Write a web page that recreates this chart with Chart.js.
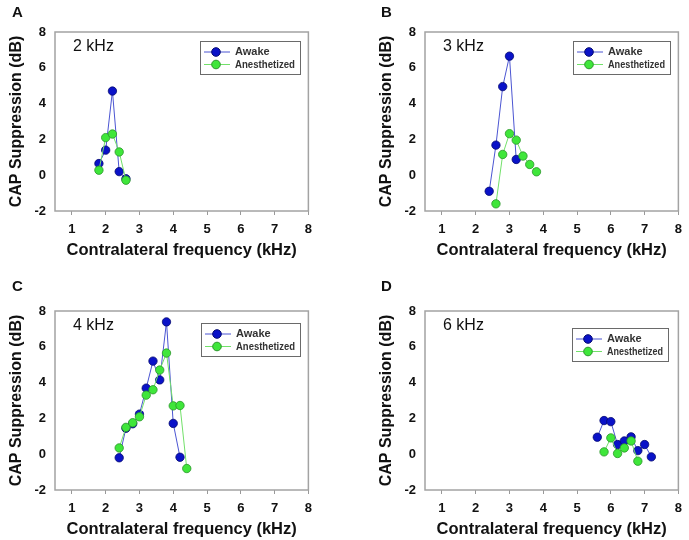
<!DOCTYPE html>
<html>
<head>
<meta charset="utf-8">
<script src="https://cdn.jsdelivr.net/npm/chart.js@4.4.1/dist/chart.umd.min.js"></script>
<style>
html, body { margin: 0; padding: 0; background: #fff; overflow: hidden; width: 689px; height: 540px; }
.panel { position: absolute; }
.letter { position: absolute; font: bold 15px "Liberation Sans", Arial, sans-serif; color: #111; line-height: 15px; }
</style>
</head>
<body>
<canvas id="cA" class="panel" width="319" height="270" style="left:0;top:0"></canvas>
<canvas id="cB" class="panel" width="319" height="270" style="left:370px;top:0"></canvas>
<canvas id="cC" class="panel" width="319" height="270" style="left:0;top:279px"></canvas>
<canvas id="cD" class="panel" width="319" height="270" style="left:370px;top:279px"></canvas>
<div class="letter" style="left:12px;top:4px">A</div>
<div class="letter" style="left:381px;top:4px">B</div>
<div class="letter" style="left:12px;top:278px">C</div>
<div class="letter" style="left:381px;top:278px">D</div>
<script>
// axis ticks
const xTicks = [1, 2, 3, 4, 5, 6, 7, 8];
const yTicks = [-2, 0, 2, 4, 6, 8];
const seriesNames = ['Awake', 'Anesthetized'];

// A: 2 kHz probe
const freqA = [1.8, 2.0, 2.2, 2.4, 2.6];
const awakeA = [0.65, 1.4, 4.7, 0.2, -0.2];
const anesA = [0.28, 2.1, 2.3, 1.3, -0.28];

// B: 3 kHz probe
const freqAwakeB = [2.4, 2.6, 2.8, 3.0, 3.2];
const awakeB = [-0.9, 1.68, 4.95, 6.65, 0.88];
const freqAnesB = [2.6, 2.8, 3.0, 3.2, 3.4, 3.6, 3.8];
const anesB = [-1.6, 1.16, 2.32, 1.96, 1.07, 0.6, 0.19];

// C: 4 kHz probe
const freqAwakeC = [2.4, 2.6, 2.8, 3.0, 3.2, 3.4, 3.6, 3.8, 4.0, 4.2];
const awakeC = [-0.2, 1.45, 1.7, 2.24, 3.69, 5.2, 4.15, 7.39, 1.72, -0.17];
const freqAnesC = [2.4, 2.6, 2.8, 3.0, 3.2, 3.4, 3.6, 3.8, 4.0, 4.2, 4.4];
const anesC = [0.35, 1.5, 1.76, 2.09, 3.3, 3.6, 4.7, 5.65, 2.7, 2.72, -0.8];

// D: 6 kHz probe
const freqAwakeD = [5.6, 5.8, 6.0, 6.2, 6.4, 6.6, 6.8, 7.0, 7.2];
const awakeD = [0.95, 1.88, 1.82, 0.54, 0.74, 0.97, 0.2, 0.54, -0.15];
const freqAnesD = [5.8, 6.0, 6.2, 6.4, 6.6, 6.8];
const anesD = [0.13, 0.91, 0.04, 0.35, 0.74, -0.39];

const blue = { line: '#4b55d2', fill: '#0a12c8', edge: '#050a70' };
const green = { line: '#72e06a', fill: '#3fe63a', edge: '#2a962a' };

function pts(xs, ys) {
    return xs.map(function (x, i) { return { x: x, y: ys[i] }; });
}

const panelDecor = {
    id: 'panelDecor',
    beforeDatasetsDraw(chart, args, opts) {
        const ctx = chart.ctx, a = chart.chartArea;
        ctx.save();
        ctx.strokeStyle = '#a3a3a3';
        ctx.lineWidth = 1.5;
        ctx.strokeRect(a.left, a.top, a.right - a.left, a.bottom - a.top);
        ctx.fillStyle = '#111';
        ctx.font = '16px "Liberation Sans", Arial, sans-serif';
        ctx.textAlign = 'left';
        ctx.textBaseline = 'middle';
        ctx.fillText(opts.label, a.left + 18, a.top + 15);
        ctx.restore();
    },
    afterDatasetsDraw(chart, args, opts) {
        const ctx = chart.ctx, a = chart.chartArea;
        const x0 = a.left + opts.legendX, y0 = a.top + opts.legendY;
        ctx.save();
        ctx.fillStyle = '#fff';
        ctx.fillRect(x0, y0, opts.legendW, 33);
        ctx.strokeStyle = '#6a6a6a';
        ctx.lineWidth = 1;
        ctx.strokeRect(x0 + 0.5, y0 + 0.5, opts.legendW, 33);
        chart.data.datasets.slice().sort(function (p, q) { return p.legendIndex - q.legendIndex; }).forEach(function (ds, i) {
            const y = y0 + 11 + i * 12.5;
            ctx.strokeStyle = ds.borderColor;
            ctx.lineWidth = 1;
            ctx.beginPath();
            ctx.moveTo(x0 + 4, y);
            ctx.lineTo(x0 + 30, y);
            ctx.stroke();
            ctx.beginPath();
            ctx.arc(x0 + 16, y, 4.3, 0, Math.PI * 2);
            ctx.fillStyle = ds.pointBackgroundColor;
            ctx.fill();
            ctx.strokeStyle = ds.pointBorderColor;
            ctx.stroke();
            ctx.fillStyle = '#333';
            ctx.font = 'bold 11px "Liberation Sans", Arial, sans-serif';
            ctx.textAlign = 'left';
            ctx.textBaseline = 'middle';
            // squeeze to the narrow legend face of the original
            ctx.fillText(ds.label, x0 + 35, y, ds.label.length > 6 ? opts.legendW - 40 : 40);
        });
        ctx.restore();
    }
};

function makePanel(id, label, awake, anes, legendX, legendY, legendW) {
    const tickFont = { family: '"Liberation Sans", Arial, sans-serif', size: 13, weight: 'bold' };
    new Chart(document.getElementById(id), {
        type: 'scatter',
        data: {
            datasets: [
                {
                    label: seriesNames[0], data: awake, showLine: true, order: 1, legendIndex: 0,
                    borderColor: blue.line, borderWidth: 1,
                    pointBackgroundColor: blue.fill, pointBorderColor: blue.edge,
                    pointRadius: 4.2, pointBorderWidth: 0.8
                },
                {
                    label: seriesNames[1], data: anes, showLine: true, order: 0, legendIndex: 1,
                    borderColor: green.line, borderWidth: 1,
                    pointBackgroundColor: green.fill, pointBorderColor: green.edge,
                    pointRadius: 4.2, pointBorderWidth: 0.8
                }
            ]
        },
        options: {
            responsive: false,
            animation: false,
            layout: { padding: { top: 32, right: 8, left: 0, bottom: 0 } },
            plugins: {
                legend: { display: false },
                tooltip: { enabled: false },
                panelDecor: { label: label, legendX: legendX, legendY: legendY, legendW: legendW }
            },
            scales: {
                x: {
                    type: 'linear', min: 0.5, max: 8,
                    afterBuildTicks: function (s) { s.ticks = xTicks.map(function (v) { return { value: v }; }); },
                    afterFit: function (s) { s.height = 59; },
                    grid: { display: true, drawOnChartArea: false, drawTicks: true, tickLength: 4, color: '#999' },
                    border: { display: false },
                    ticks: { font: tickFont, color: '#111', padding: 7, maxRotation: 0 },
                    title: {
                        display: true, text: 'Contralateral frequency (kHz)', color: '#111',
                        font: { family: '"Liberation Sans", Arial, sans-serif', size: 16.5, weight: 'bold' },
                        padding: { top: 0, bottom: 10 }
                    }
                },
                y: {
                    type: 'linear', min: -2, max: 8,
                    afterBuildTicks: function (s) { s.ticks = yTicks.map(function (v) { return { value: v }; }); },
                    afterFit: function (s) { s.width = 55; },
                    grid: { display: false, drawTicks: false },
                    border: { display: false },
                    ticks: { font: tickFont, color: '#111', padding: 9 },
                    title: {
                        display: true, text: 'CAP Suppression (dB)', color: '#111',
                        font: { family: '"Liberation Sans", Arial, sans-serif', size: 16, weight: 'bold' },
                        padding: { top: 7, bottom: 0 }
                    }
                }
            }
        },
        plugins: [panelDecor]
    });
}

makePanel('cA', '2 kHz', pts(freqA, awakeA), pts(freqA, anesA), 145, 9, 100);
makePanel('cB', '3 kHz', pts(freqAwakeB, awakeB), pts(freqAnesB, anesB), 148, 9, 97);
makePanel('cC', '4 kHz', pts(freqAwakeC, awakeC), pts(freqAnesC, anesC), 146, 12, 99);
makePanel('cD', '6 kHz', pts(freqAwakeD, awakeD), pts(freqAnesD, anesD), 147, 17, 96);
</script>
</body>
</html>
